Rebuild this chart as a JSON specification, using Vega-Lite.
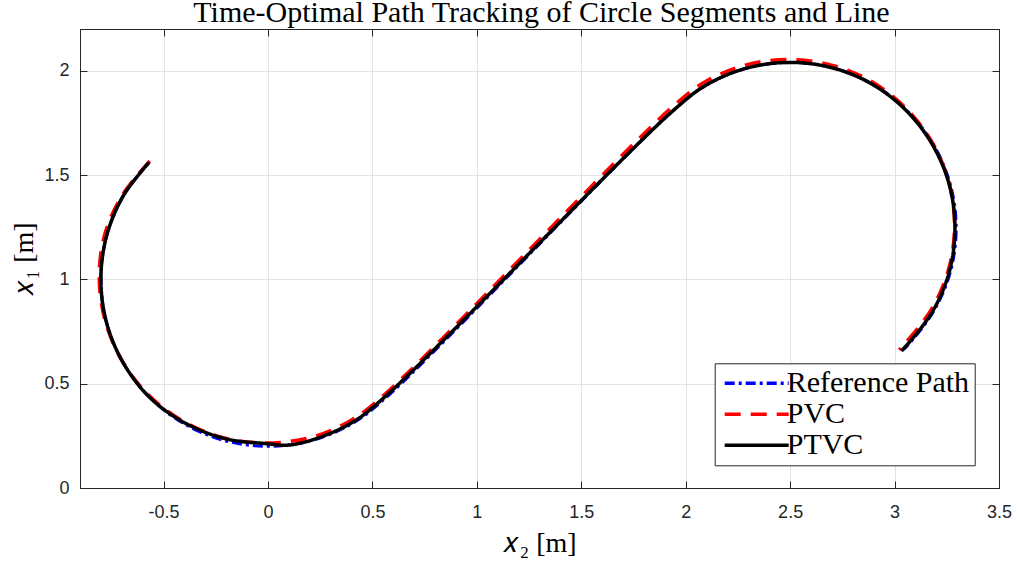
{
  "$schema": "https://vega.github.io/schema/vega-lite/v6.json",
  "width": 919,
  "height": 459,
  "autosize": {"type": "none"},
  "padding": {"left": 80, "top": 29, "right": 18, "bottom": 74},
  "background": "white",
  "title": {"text": "Time-Optimal Path Tracking of Circle Segments and Line", "font": "Liberation Serif", "fontSize": 30, "fontWeight": "normal", "color": "#000000", "anchor": "middle", "offset": 1, "dx": 2},
  "config": {
    "view": {"stroke": "#262626", "strokeWidth": 1},
    "axis": {"domainColor": "#262626", "tickColor": "#262626", "labelColor": "#262626", "labelFont": "Liberation Sans", "labelFontSize": 18, "tickSize": -7, "gridColor": "#e3e3e3", "gridOpacity": 1, "titleFont": "Liberation Serif", "titleFontSize": 28, "titleFontWeight": "normal", "titleColor": "#000000", "labelFlush": false, "labelOverlap": false},
    "legend": {"orient": "none", "legendX": 634.7, "legendY": 334.3, "symbolType": "M-4,0H4", "symbolSize": 256, "symbolStrokeWidth": 3.5, "labelFont": "Liberation Serif", "labelFontSize": 30, "labelColor": "#000000", "labelOffset": 15, "padding": 5, "symbolOffset": 22, "rowPadding": 1, "strokeColor": "#262626", "fillColor": "white", "labelLimit": 400}
  },
  "datasets": {
    "p": [
      {"s": "Reference Path", "i": 0, "x": -0.566, "y": 1.566},
      {"s": "Reference Path", "i": 1, "x": -0.693, "y": 1.4},
      {"s": "Reference Path", "i": 2, "x": -0.773, "y": 1.207},
      {"s": "Reference Path", "i": 3, "x": -0.8, "y": 1.0},
      {"s": "Reference Path", "i": 4, "x": -0.773, "y": 0.793},
      {"s": "Reference Path", "i": 5, "x": -0.693, "y": 0.6},
      {"s": "Reference Path", "i": 6, "x": -0.566, "y": 0.434},
      {"s": "Reference Path", "i": 7, "x": -0.4, "y": 0.307},
      {"s": "Reference Path", "i": 8, "x": -0.207, "y": 0.227},
      {"s": "Reference Path", "i": 9, "x": 0.0, "y": 0.2},
      {"s": "Reference Path", "i": 10, "x": 0.207, "y": 0.227},
      {"s": "Reference Path", "i": 11, "x": 0.4, "y": 0.307},
      {"s": "Reference Path", "i": 12, "x": 0.566, "y": 0.434},
      {"s": "Reference Path", "i": 13, "x": 1.938, "y": 1.807},
      {"s": "Reference Path", "i": 14, "x": 2.103, "y": 1.934},
      {"s": "Reference Path", "i": 15, "x": 2.294, "y": 2.013},
      {"s": "Reference Path", "i": 16, "x": 2.5, "y": 2.04},
      {"s": "Reference Path", "i": 17, "x": 2.706, "y": 2.013},
      {"s": "Reference Path", "i": 18, "x": 2.898, "y": 1.934},
      {"s": "Reference Path", "i": 19, "x": 3.062, "y": 1.807},
      {"s": "Reference Path", "i": 20, "x": 3.188, "y": 1.643},
      {"s": "Reference Path", "i": 21, "x": 3.268, "y": 1.451},
      {"s": "Reference Path", "i": 22, "x": 3.295, "y": 1.245},
      {"s": "Reference Path", "i": 23, "x": 3.268, "y": 1.039},
      {"s": "Reference Path", "i": 24, "x": 3.188, "y": 0.848},
      {"s": "Reference Path", "i": 25, "x": 3.062, "y": 0.683},
      {"s": "Reference Path", "i": 26, "x": 3.036, "y": 0.658},
      {"s": "PVC", "i": 0, "x": -0.566, "y": 1.566},
      {"s": "PVC", "i": 1, "x": -0.697, "y": 1.404},
      {"s": "PVC", "i": 2, "x": -0.781, "y": 1.217},
      {"s": "PVC", "i": 3, "x": -0.808, "y": 1.012},
      {"s": "PVC", "i": 4, "x": -0.781, "y": 0.807},
      {"s": "PVC", "i": 5, "x": -0.701, "y": 0.614},
      {"s": "PVC", "i": 6, "x": -0.574, "y": 0.448},
      {"s": "PVC", "i": 7, "x": -0.408, "y": 0.321},
      {"s": "PVC", "i": 8, "x": -0.215, "y": 0.241},
      {"s": "PVC", "i": 9, "x": -0.008, "y": 0.216},
      {"s": "PVC", "i": 10, "x": 0.199, "y": 0.241},
      {"s": "PVC", "i": 11, "x": 0.392, "y": 0.321},
      {"s": "PVC", "i": 12, "x": 0.558, "y": 0.448},
      {"s": "PVC", "i": 13, "x": 1.93, "y": 1.821},
      {"s": "PVC", "i": 14, "x": 2.095, "y": 1.948},
      {"s": "PVC", "i": 15, "x": 2.286, "y": 2.027},
      {"s": "PVC", "i": 16, "x": 2.492, "y": 2.054},
      {"s": "PVC", "i": 17, "x": 2.698, "y": 2.027},
      {"s": "PVC", "i": 18, "x": 2.89, "y": 1.948},
      {"s": "PVC", "i": 19, "x": 3.054, "y": 1.821},
      {"s": "PVC", "i": 20, "x": 3.18, "y": 1.657},
      {"s": "PVC", "i": 21, "x": 3.26, "y": 1.465},
      {"s": "PVC", "i": 22, "x": 3.287, "y": 1.259},
      {"s": "PVC", "i": 23, "x": 3.26, "y": 1.053},
      {"s": "PVC", "i": 24, "x": 3.18, "y": 0.862},
      {"s": "PVC", "i": 25, "x": 3.052, "y": 0.695},
      {"s": "PVC", "i": 26, "x": 3.022, "y": 0.662},
      {"s": "PTVC", "i": 0, "x": -0.57, "y": 1.56},
      {"s": "PTVC", "i": 1, "x": -0.693, "y": 1.4},
      {"s": "PTVC", "i": 2, "x": -0.773, "y": 1.207},
      {"s": "PTVC", "i": 3, "x": -0.8, "y": 1.0},
      {"s": "PTVC", "i": 4, "x": -0.773, "y": 0.793},
      {"s": "PTVC", "i": 5, "x": -0.693, "y": 0.6},
      {"s": "PTVC", "i": 6, "x": -0.566, "y": 0.434},
      {"s": "PTVC", "i": 7, "x": -0.398, "y": 0.312},
      {"s": "PTVC", "i": 8, "x": -0.203, "y": 0.236},
      {"s": "PTVC", "i": 9, "x": 0.0, "y": 0.212},
      {"s": "PTVC", "i": 10, "x": 0.09, "y": 0.205},
      {"s": "PTVC", "i": 11, "x": 0.207, "y": 0.229},
      {"s": "PTVC", "i": 12, "x": 0.398, "y": 0.311},
      {"s": "PTVC", "i": 13, "x": 0.561, "y": 0.438},
      {"s": "PTVC", "i": 14, "x": 1.938, "y": 1.807},
      {"s": "PTVC", "i": 15, "x": 2.103, "y": 1.934},
      {"s": "PTVC", "i": 16, "x": 2.294, "y": 2.013},
      {"s": "PTVC", "i": 17, "x": 2.5, "y": 2.04},
      {"s": "PTVC", "i": 18, "x": 2.706, "y": 2.013},
      {"s": "PTVC", "i": 19, "x": 2.897, "y": 1.933},
      {"s": "PTVC", "i": 20, "x": 3.06, "y": 1.805},
      {"s": "PTVC", "i": 21, "x": 3.184, "y": 1.641},
      {"s": "PTVC", "i": 22, "x": 3.263, "y": 1.45},
      {"s": "PTVC", "i": 23, "x": 3.289, "y": 1.245},
      {"s": "PTVC", "i": 24, "x": 3.263, "y": 1.04},
      {"s": "PTVC", "i": 25, "x": 3.184, "y": 0.85},
      {"s": "PTVC", "i": 26, "x": 3.059, "y": 0.685},
      {"s": "PTVC", "i": 27, "x": 3.032, "y": 0.658}
    ]
  },
  "data": {"name": "p"},
  "resolve": {"axis": {"x": "independent", "y": "independent"}},
  "layer": [
    {
      "transform": [{"filter": "datum.s === 'Reference Path'"}],
      "mark": {"type": "line", "interpolate": "catmull-rom", "strokeWidth": 3},
      "encoding": {
        "x": {"field": "x", "type": "quantitative", "scale": {"domain": [-0.9, 3.5], "nice": false, "zero": false},
              "axis": {"orient": "bottom", "values": [-0.5, 0, 0.5, 1, 1.5, 2, 2.5, 3, 3.5], "grid": true, "labelPadding": 22, "labelExpr": "datum.value < 0 ? '-' + format(-datum.value, '~g') : format(datum.value, '~g')", "title": "𝑥₂ [m]", "titleY": 63, "titleBaseline": "alphabetic"}},
        "y": {"field": "y", "type": "quantitative", "scale": {"domain": [0, 2.2], "nice": false, "zero": false},
              "axis": {"orient": "left", "values": [0, 0.5, 1, 1.5, 2], "grid": true, "labelPadding": 18, "labelExpr": "format(datum.value, '~g')", "title": "𝑥₁ [m]", "titleX": -48, "titleY": 229.5, "titleAngle": -90, "titleAlign": "center", "titleBaseline": "alphabetic"}},
        "order": {"field": "i", "type": "quantitative"},
        "color": {"field": "s", "type": "nominal", "scale": {"domain": ["Reference Path", "PVC", "PTVC"], "range": ["#0000ff", "#ff0000", "#000000"]}, "legend": {"title": null}},
        "strokeDash": {"field": "s", "type": "nominal", "scale": {"domain": ["Reference Path", "PVC", "PTVC"], "range": [[10, 4, 3, 4], [16, 10], [1, 0]]}, "legend": {"title": null}}
      }
    },
    {
      "transform": [{"filter": "datum.s === 'PVC'"}],
      "mark": {"type": "line", "interpolate": "catmull-rom", "strokeWidth": 3.5},
      "encoding": {
        "x": {"field": "x", "type": "quantitative", "axis": null},
        "y": {"field": "y", "type": "quantitative", "axis": null},
        "order": {"field": "i", "type": "quantitative"},
        "color": {"field": "s", "type": "nominal"},
        "strokeDash": {"field": "s", "type": "nominal"}
      }
    },
    {
      "transform": [{"filter": "datum.s === 'PTVC'"}],
      "mark": {"type": "line", "interpolate": "catmull-rom", "strokeWidth": 3.5},
      "encoding": {
        "x": {"field": "x", "type": "quantitative", "axis": {"orient": "top", "values": [-0.5, 0, 0.5, 1, 1.5, 2, 2.5, 3, 3.5], "labels": false, "grid": false, "title": null, "minExtent": 0, "maxExtent": 0}},
        "y": {"field": "y", "type": "quantitative", "axis": {"orient": "right", "values": [0, 0.5, 1, 1.5, 2], "labels": false, "grid": false, "title": null, "minExtent": 0, "maxExtent": 0}},
        "order": {"field": "i", "type": "quantitative"},
        "color": {"field": "s", "type": "nominal"},
        "strokeDash": {"field": "s", "type": "nominal"}
      }
    }
  ]
}
